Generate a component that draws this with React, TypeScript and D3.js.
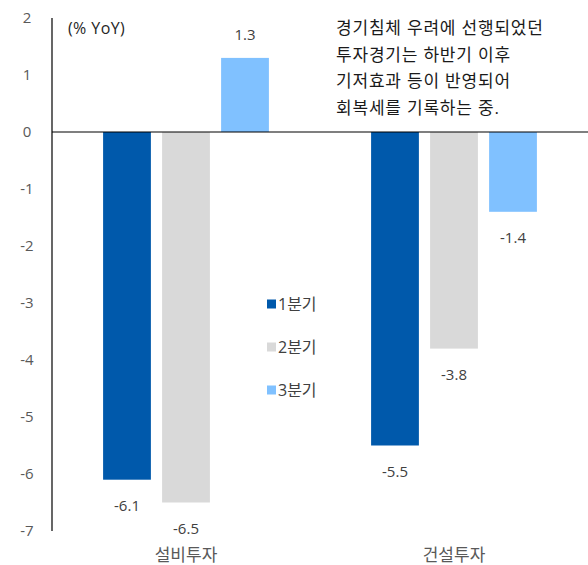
import React from 'react'
import * as d3 from 'd3'

const categories = ['설비투자', '건설투자']
const seriesNames = ['1분기', '2분기', '3분기']
const q1 = [-6.1, -5.5]
const q2 = [-6.5, -3.8]
const q3 = [1.3, -1.4]
const seriesValues = [q1, q2, q3]
const colors = ['#0059ab', '#d9d9d9', '#80c1ff']
const yTicks = [2, 1, 0, -1, -2, -3, -4, -5, -6, -7]
const note = [
  '경기침체 우려에 선행되었던',
  '투자경기는 하반기 이후',
  '기저효과 등이 반영되어',
  '회복세를 기록하는 중.',
]

const W = 588
const H = 565
const font = '"Open Sans", "Noto Sans CJK KR", sans-serif'

export default function App() {
  const left = 52
  const y = d3.scaleLinear().domain([-7, 2]).range([531, 18])
  const x0 = d3.scaleBand().domain(categories).range([left, W]).padding(0)
  const x1 = d3
    .scaleBand()
    .domain(seriesNames)
    .range([0, x0.bandwidth()])
    .paddingInner(0.19)
    .paddingOuter(0.866)

  return (
    <svg width={W} height={H} style={{position: 'absolute', left: 0, top: 0}} fontFamily={font}>
      <rect width={W} height={H} fill="#fff" />
      {/* y tick labels */}
      {yTicks.map((t) => (
        <text key={t} x={27} y={y(t)} dy="0.35em" textAnchor="middle" fontSize={15} fill="#595959">
          {t}
        </text>
      ))}
      {/* bars */}
      {categories.map((c, ci) =>
        seriesNames.map((s, si) => {
          const v = seriesValues[si][ci]
          const bx = (x0(c) ?? 0) + (x1(s) ?? 0)
          const top = y(Math.max(0, v))
          const h = Math.abs(y(v) - y(0))
          const ly = v < 0 ? y(v) + 26 : y(v) - 23
          return (
            <g key={c + s}>
              <rect x={bx} y={top} width={x1.bandwidth()} height={h} fill={colors[si]} />
              <text x={bx + x1.bandwidth() / 2} y={ly} dy="0.35em" textAnchor="middle" fontSize={15} fill="#404040">
                {v.toFixed(1)}
              </text>
            </g>
          )
        })
      )}
      {/* axes */}
      <line x1={left} x2={left} y1={y(2)} y2={y(-7)} stroke="#000" strokeWidth={1.2} />
      <line x1={left} x2={W} y1={y(0)} y2={y(0)} stroke="#000" strokeWidth={1.2} />
      {/* category labels */}
      {categories.map((c) => (
        <text key={c} x={(x0(c) ?? 0) + x0.bandwidth() / 2} y={555} dy="0.35em" textAnchor="middle" fontSize={17} fill="#595959">
          {c}
        </text>
      ))}
      {/* unit */}
      <text x={68} y={28} dy="0.35em" fontSize={16} letterSpacing={0.4} fill="#262626">
        (% YoY)
      </text>
      {/* note */}
      {note.map((line, i) => (
        <text key={i} x={336} y={28 + i * 26.7} dy="0.35em" fontSize={17} letterSpacing={0.8} fill="#1a1a1a">
          {line}
        </text>
      ))}
      {/* legend */}
      {seriesNames.map((s, i) => (
        <g key={s} transform={`translate(267, ${304 + i * 43})`}>
          <rect x={0} y={-4.5} width={9} height={9} fill={colors[i]} />
          <text x={11} y={0} dy="0.35em" fontSize={16} fill="#404040">
            {s}
          </text>
        </g>
      ))}
    </svg>
  )
}
